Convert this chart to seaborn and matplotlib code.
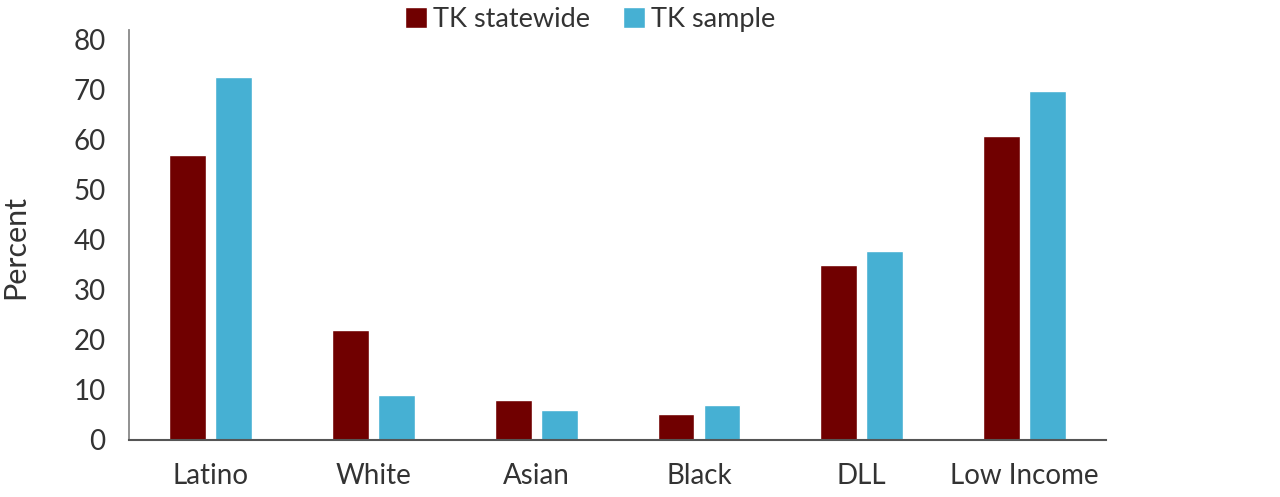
import numpy as np
import matplotlib.pyplot as plt
import pandas as pd
import seaborn as sns

categories = ['Latino', 'White', 'Asian', 'Black', 'DLL', 'Low Income']
statewide = [56.9, 22.0, 8.0, 5.1, 34.9, 60.7]
sample = [72.6, 9.0, 6.0, 7.0, 37.7, 69.7]
series = ['TK statewide', 'TK sample']
colors = ['#700000', '#46b0d3']

frame = pd.DataFrame({
    'group': categories * 2,
    'value': statewide + sample,
    'series': [series[0]] * len(categories) + [series[1]] * len(categories),
})

sns.set_style('white')
plt.rcParams['font.family'] = ['Lato', 'DejaVu Sans']

fig, ax = plt.subplots(figsize=(12.8, 4.97), dpi=100)
fig.subplots_adjust(left=0.101, right=0.864, bottom=0.115, top=0.94)

sns.barplot(data=frame, x='group', y='value', hue='series', order=categories,
            hue_order=series, palette=colors, width=0.565, gap=0.2,
            saturation=1, ax=ax)

ax.set_xlim(-0.5, 5.5)
ax.set_ylim(0, 82)
ax.set_yticks(range(0, 81, 10))
ax.set_xlabel('')
ax.set_ylabel('Percent', fontsize=22, color='#333333')
# label sits a little below the axes' middle in the reference
ax.yaxis.set_label_coords(-0.102, 0.47)
ax.tick_params(axis='both', length=0, labelsize=20, labelcolor='#333333')
ax.tick_params(axis='x', pad=17)
ax.tick_params(axis='y', pad=17)

sns.despine(ax=ax)
ax.spines['left'].set_color('#888888')
ax.spines['left'].set_linewidth(1.3)
ax.spines['bottom'].set_color('#555555')
ax.spines['bottom'].set_linewidth(1.5)

ax.legend(loc='upper center', bbox_to_anchor=(0.472, 1.115), ncol=2,
          frameon=False, fontsize=19.5, handlelength=0.8, handleheight=0.8,
          handletextpad=0.25, columnspacing=1.2, labelcolor='#333333')

fig.savefig('out.png', dpi=100)
